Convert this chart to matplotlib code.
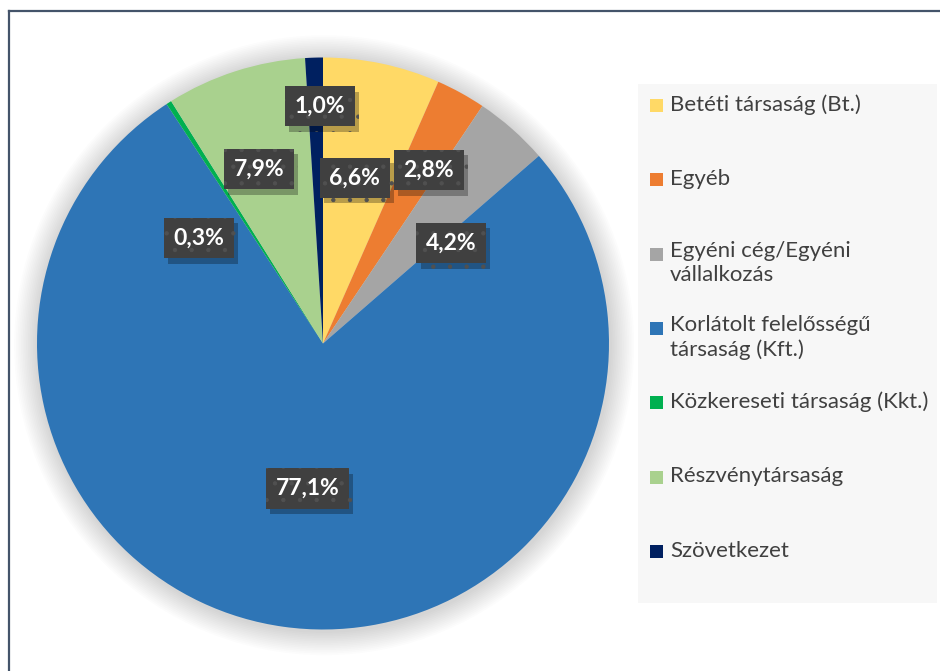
import matplotlib
matplotlib.use("Agg")
import matplotlib.pyplot as plt
from matplotlib.patches import Rectangle, Circle
from matplotlib.lines import Line2D
import matplotlib.transforms as mtransforms
import matplotlib.patheffects as pe
import numpy as np

# ---- data ----
categories = [
    "Betéti társaság (Bt.)",
    "Egyéb",
    "Egyéni cég/Egyéni\nvállalkozás",
    "Korlátolt felelősségű\ntársaság (Kft.)",
    "Közkereseti társaság (Kkt.)",
    "Részvénytársaság",
    "Szövetkezet",
]
values = [6.6, 2.8, 4.2, 77.1, 0.3, 7.9, 1.0]
value_labels = ["6,6%", "2,8%", "4,2%", "77,1%", "0,3%", "7,9%", "1,0%"]

# ---- style ----
colors = ["#FFD966", "#ED7D31", "#A5A5A5", "#2E75B6", "#00B050", "#A9D18E", "#002060"]
label_r = [0.59, 0.71, 0.57, 0.51, 0.57, 0.65, 0.83]
label_dang = [-1.0, 2.5, 10.5, -1.8, -17.0, -2.3, 1.0]  # degrees, clockwise nudge

W, H = 940, 671
plt.rcParams["font.family"] = ["Lato", "DejaVu Sans"]
plt.rcParams["hatch.color"] = "#505050"
plt.rcParams["hatch.linewidth"] = 0.7

fig = plt.figure(figsize=(W / 100, H / 100), dpi=100)
fig.patch.set_facecolor("white")

def fx(x):
    return x / W

def fy(y):
    return 1 - y / H

# pie axes: center (323, 343.5), radius 286 px
cx, cy, R = 323, 343.5, 286
ax = fig.add_axes([fx(cx - R), fy(cy + R), 2 * R / W, 2 * R / H])

# soft shadow behind pie
for i in range(14):
    ax.add_patch(Circle((0.004, -0.006), 1.0 + 0.006 * (i + 1), color="black",
                        alpha=0.012, lw=0, zorder=0, clip_on=False))

wedges, _ = ax.pie(values, colors=colors, startangle=90, counterclock=False,
                   radius=1.0, wedgeprops=dict(linewidth=0))
for w in wedges:
    w.set_zorder(2)
ax.set_xlim(-1, 1)
ax.set_ylim(-1, 1)
ax.set_aspect("equal")
ax.axis("off")

# data labels
total = sum(values)
cum = 0.0
for v, lab, rr, da in zip(values, value_labels, label_r, label_dang):
    mid_cw = (cum + v / 2) / total * 360.0 + da
    cum += v
    ang = np.deg2rad(90 - mid_cw)
    x, y = rr * np.cos(ang), rr * np.sin(ang)
    t = ax.text(x, y, lab, ha="center", va="center", fontsize=16.5,
                fontweight="bold", color="white", zorder=5,
                bbox=dict(boxstyle="square,pad=0.42", facecolor="#404040",
                          edgecolor="#505050", linewidth=0, hatch="."))
    t.get_bbox_patch().set_path_effects([
        pe.SimplePatchShadow(offset=(3, -4), shadow_rgbFace="black", alpha=0.28),
        pe.Normal()])

# legend box
fig.add_artist(Rectangle((fx(638), fy(603)), (937 - 638) / W, (603 - 84) / H,
                         transform=fig.transFigure, facecolor="#F7F7F7",
                         edgecolor="none", zorder=1))
y0, step = 105, 74.3
for i, (c, name) in enumerate(zip(colors, categories)):
    y = y0 + i * step
    fig.add_artist(Rectangle((fx(650), fy(y + 7)), 13 / W, 13 / H,
                             transform=fig.transFigure, facecolor=c,
                             edgecolor="none", zorder=2))
    multi = "\n" in name
    fig.text(fx(670), fy(y), name, ha="left", va="top" if multi else "center",
             fontsize=16, color="#404040", linespacing=1.3, zorder=3,
             transform=mtransforms.offset_copy(fig.transFigure, fig=fig, x=0,
                                               y=(13 if multi else 0),
                                               units="dots"))

# border (top and left)
fig.add_artist(Line2D([fx(9), fx(940)], [fy(10.5), fy(10.5)], color="#44546A",
                      lw=1.6, transform=fig.transFigure))
fig.add_artist(Line2D([fx(8.5), fx(8.5)], [fy(10.5), fy(671)], color="#44546A",
                      lw=1.6, transform=fig.transFigure))

fig.savefig("out.png", dpi=100, facecolor="white")
